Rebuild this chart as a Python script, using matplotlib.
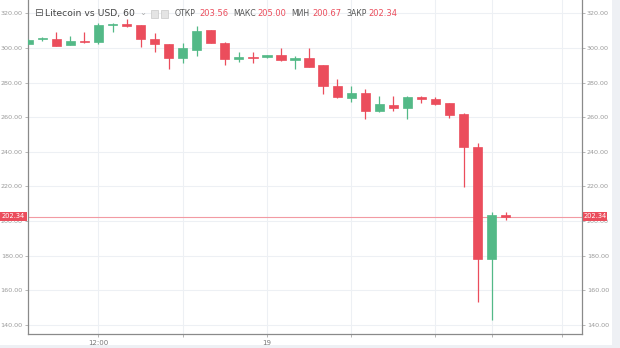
import matplotlib
matplotlib.use("Agg")
import matplotlib.pyplot as plt
from matplotlib.patches import Rectangle
import numpy as np

# ---- data (hourly candles, hour 0 = 18th 00:00) ----
hours  = [7, 8, 9, 10, 11, 12, 13, 14, 15, 16, 17, 18, 19, 20, 21, 22, 23, 24,
          25, 26, 27, 28, 29, 30, 31, 32, 33, 34, 35, 36, 37, 38, 39, 40, 41]
opens  = [302.3, 304.9, 305.2, 301.7, 304.2, 303.4, 313.2, 313.8, 313.0, 305.2, 302.1, 294.4,
          298.8, 310.4, 303.0, 293.6, 295.0, 294.6, 295.7, 293.0, 294.4, 290.0, 278.2, 271.3,
          273.8, 263.8, 266.9, 265.1, 271.5, 270.5, 268.0, 261.8, 242.8, 178.0, 203.56]
highs  = [305.0, 306.6, 309.0, 307.1, 309.0, 314.5, 314.2, 316.7, 313.5, 308.5, 302.5, 303.0,
          312.8, 310.6, 303.3, 297.8, 297.8, 296.2, 299.8, 295.3, 299.8, 290.3, 281.9, 278.2,
          276.1, 272.2, 272.2, 272.3, 272.2, 271.8, 268.5, 262.2, 245.0, 205.0, 205.00]
lows   = [302.0, 304.2, 301.0, 301.5, 303.0, 302.0, 309.5, 312.3, 300.7, 297.8, 287.7, 291.5,
          295.3, 302.8, 290.1, 292.0, 291.1, 294.0, 292.6, 287.7, 288.8, 273.4, 271.3, 269.0,
          258.8, 263.2, 263.8, 258.8, 268.1, 267.0, 259.4, 219.9, 153.0, 143.0, 200.67]
closes = [304.6, 305.5, 301.3, 304.2, 303.4, 313.5, 313.8, 312.7, 305.2, 302.1, 294.4, 299.8,
          310.0, 303.0, 293.4, 295.0, 294.2, 295.7, 293.0, 294.4, 289.2, 278.0, 271.8, 273.8,
          263.6, 267.5, 265.5, 271.8, 270.3, 267.5, 261.5, 242.8, 178.0, 203.56, 202.34]

y_ticks = [140, 160, 180, 200, 220, 240, 260, 280, 300, 320]
x_ticks = [12, 18, 24, 30, 36, 40, 45]
x_tick_labels = ["12:00", "", "19", "", "", "", ""]
last_price = 202.34
header_title = "Litecoin vs USD, 60"
ohlc_names = ["ОТКР", "МАКС", "МИН", "ЗАКР"]
ohlc_values = ["203.56", "205.00", "200.67", "202.34"]

UP = "#53b987"
DOWN = "#eb4d5c"
LBL = "#9a9a9a"

W, H = 620, 348
fig = plt.figure(figsize=(W / 100, H / 100), dpi=100)
fig.patch.set_facecolor("white")
ax = fig.add_axes([27.7 / W, 14 / H, (582 - 27.7) / W, (334) / H])
ax.set_facecolor("white")

# candles
bw = 0.66
for h, o, hi, lo, c in zip(hours, opens, highs, lows, closes):
    col = UP if c >= o else DOWN
    ax.vlines(h, lo, hi, color=col, lw=0.9, zorder=3)
    bottom = min(o, c)
    height = max(abs(c - o), 0.6)
    ax.add_patch(Rectangle((h - bw / 2, bottom), bw, height, facecolor=col,
                           edgecolor=col, lw=0.5, zorder=4))

ax.set_xlim(6.96, 46.44)
ax.set_ylim(134.8, 327.7)

# grid
for y in y_ticks:
    ax.axhline(y, color="#edf0f4", lw=0.8, zorder=0)
for x in x_ticks:
    ax.axvline(x, color="#edf0f4", lw=0.8, zorder=0)

# last price line
ax.axhline(last_price, color="#f29aa3", lw=0.8, zorder=2)

# axes styling
ax.spines["top"].set_visible(False)
for s in ["left", "right", "bottom"]:
    ax.spines[s].set_color("#8a8a8a")
    ax.spines[s].set_linewidth(0.9)

ax.set_yticks(y_ticks)
ax.set_yticklabels([f"{v:.2f}" for v in y_ticks])
ax.tick_params(axis="y", which="both", left=True, right=True, labelleft=True,
               labelright=True, length=2.5, width=0.6, color="#aaaaaa",
               labelsize=4.6, labelcolor=LBL, pad=1)
ax.set_xticks(x_ticks)
ax.set_xticklabels(x_tick_labels)
ax.tick_params(axis="x", length=2.5, width=0.6, color="#aaaaaa", labelsize=5,
               labelcolor="#777777", pad=2)

# price labels on both sides
def px(x, y):
    return x / W, 1 - y / H

for x0, x1 in [(0, 26.5), (582.5, 607)]:
    fx, fy = px(x0, 220.5)
    fig.add_artist(Rectangle((fx, fy), (x1 - x0) / W, 8.5 / H, transform=fig.transFigure,
                             facecolor=DOWN, edgecolor="none", zorder=10))
    tx, ty = px((x0 + x1) / 2, 216.3)
    fig.text(tx, ty, f"{last_price:.2f}", color="white", fontsize=4.8, ha="center",
             va="center", zorder=11)

# header
hx, hy = px(38, 13.5)
fig.text(hx, hy, "⊟", fontsize=7.5, color="#555555", ha="center", va="center")
tx, ty = px(45, 13.5)
fig.text(tx, ty, header_title, fontsize=6.7, color="#444444", ha="left", va="center")
dx, dy = px(143, 12.5)
fig.text(dx, dy, "⌄", fontsize=6, color="#aaaaaa", ha="center", va="center")
for bx in [150.5, 160.5]:
    fx, fy = px(bx, 17.5)
    fig.add_artist(Rectangle((fx, fy), 7 / W, 7.5 / H, transform=fig.transFigure,
                             facecolor="#e4e4e4", edgecolor="#c8c8c8", lw=0.5))
name_x = [175, 233, 291, 346]
val_x = [199, 257, 312, 368]
for nm, vv, nx, vx in zip(ohlc_names, ohlc_values, name_x, val_x):
    a, b = px(nx, 13.5)
    fig.text(a, b, nm, fontsize=5.6, color="#555555", ha="left", va="center")
    a, b = px(vx, 13.5)
    fig.text(a, b, vv, fontsize=6, color=DOWN, ha="left", va="center")

# light page strips on right and bottom
fig.add_artist(Rectangle((612 / W, 0), 8 / W, 1, transform=fig.transFigure,
                         facecolor="#eef0f4", edgecolor="none", zorder=0))
fig.add_artist(Rectangle((0, 0), 1, 3 / H, transform=fig.transFigure,
                         facecolor="#eef0f4", edgecolor="none", zorder=0))

fig.savefig("out.png", dpi=100)
